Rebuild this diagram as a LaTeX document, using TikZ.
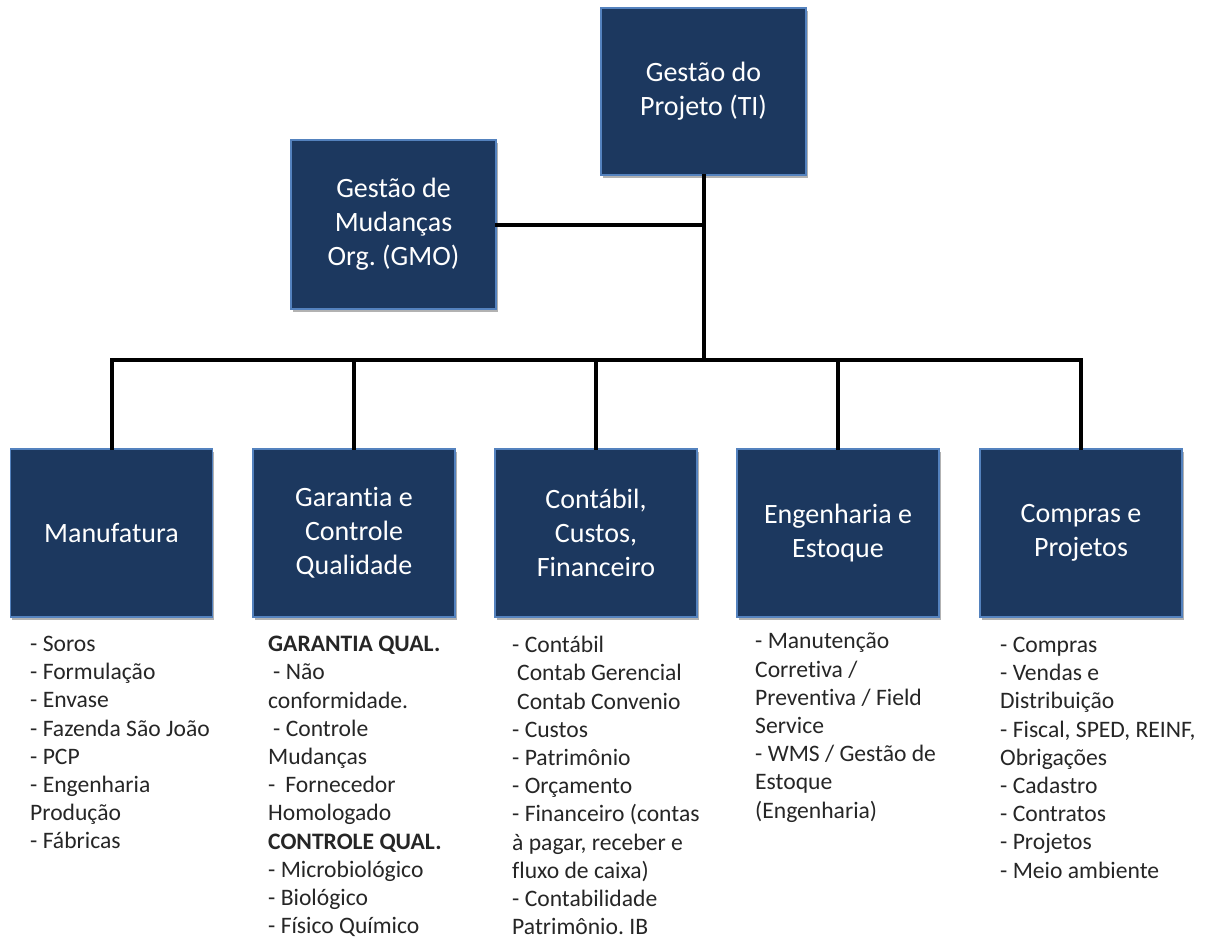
\documentclass[tikz,border=0pt]{standalone}
\usepackage{fontspec}
\setmainfont[Ligatures={NoCommon}]{Carlito}
\usetikzlibrary{shadows}
\definecolor{boxfill}{RGB}{28,56,95}
\definecolor{boxborder}{RGB}{84,130,190}
\frenchspacing
\begin{document}
\frenchspacing
\begin{tikzpicture}[x=1pt,y=-1pt,
  box/.style={draw=boxborder, line width=1.1pt, fill=boxfill, text=white,
    inner sep=0pt, align=center, font=\fontsize{28}{34}\selectfont,
    drop shadow={shadow xshift=1.5pt, shadow yshift=-2.5pt, opacity=0.3, fill=black}},
  topbox/.style={box, minimum width=205pt, minimum height=167pt},
  lowbox/.style={box, minimum width=202pt, minimum height=168pt},
  conn/.style={line width=4pt, black, line cap=rect},
  itemlist/.style={anchor=north west, inner sep=0pt, align=left,
    font=\fontsize{23.6}{28.2}\selectfont, text=black!85}]
\useasboundingbox (0,0) rectangle (1209,940);
\fill[white] (0,0) rectangle (1209,940);

% top level
\node[topbox] (top) at (703.5,91.5) {Gestão do\\Projeto (TI)};
\node[topbox, minimum height=169pt] (gmo) at (393.5,224.5) {Gestão de\\Mudanças\\Org. (GMO)};

% bottom level
\node[lowbox] (b1) at (111.5,533) {Manufatura};
\node[lowbox] (b2) at (354,533) {Garantia e\\Controle\\Qualidade};
\node[lowbox] (b3) at (596,533) {Contábil,\\Custos,\\Financeiro};
\node[lowbox] (b4) at (838,533) {Engenharia e\\Estoque};
\node[lowbox] (b5) at (1081,533) {Compras e\\Projetos};

% connectors
\coordinate (hub) at (top.south |- 0,360);
\draw[conn] (top.south) -- (hub);
\draw[conn] (gmo.east) -- (gmo.east -| top.south);
\draw[conn] (b1.north |- hub) -- (b5.north |- hub);
\draw[conn] (b1.north) -- (b1.north |- hub);
\draw[conn] (b2.north) -- (b2.north |- hub);
\draw[conn] (b3.north) -- (b3.north |- hub);
\draw[conn] (b4.north) -- (b4.north |- hub);
\draw[conn] (b5.north) -- (b5.north |- hub);

% item lists
\node[itemlist] (l1) at (30,636) {- Soros\\- Formulação\\- Envase\\- Fazenda São João\\- PCP\\- Engenharia\\Produção\\- Fábricas};
\node[itemlist] (l2) at (268,636) {\textbf{GARANTIA QUAL.}\\\hspace*{5pt}- Não\\conformidade.\\\hspace*{5pt}- Controle\\Mudanças\\-\hspace*{10pt}Fornecedor\\Homologado\\\textbf{CONTROLE QUAL.}\\- Microbiológico\\- Biológico\\- Físico Químico};
\node[itemlist] (l3) at (512,636) {- Contábil\\\hspace*{5pt}Contab Gerencial\\\hspace*{5pt}Contab Convenio\\- Custos\\- Patrimônio\\- Orçamento\\- Financeiro (contas\\à pagar, receber e\\fluxo de caixa)\\- Contabilidade\\Patrimônio. IB};
\node[itemlist] (l4) at (755,633) {- Manutenção\\Corretiva /\\Preventiva / Field\\Service\\- WMS / Gestão de\\Estoque\\(Engenharia)};
\node[itemlist] (l5) at (1000,637) {- Compras\\- Vendas e\\Distribuição\\- Fiscal, SPED, REINF,\\Obrigações\\- Cadastro\\- Contratos\\- Projetos\\- Meio ambiente};
\end{tikzpicture}
\end{document}
